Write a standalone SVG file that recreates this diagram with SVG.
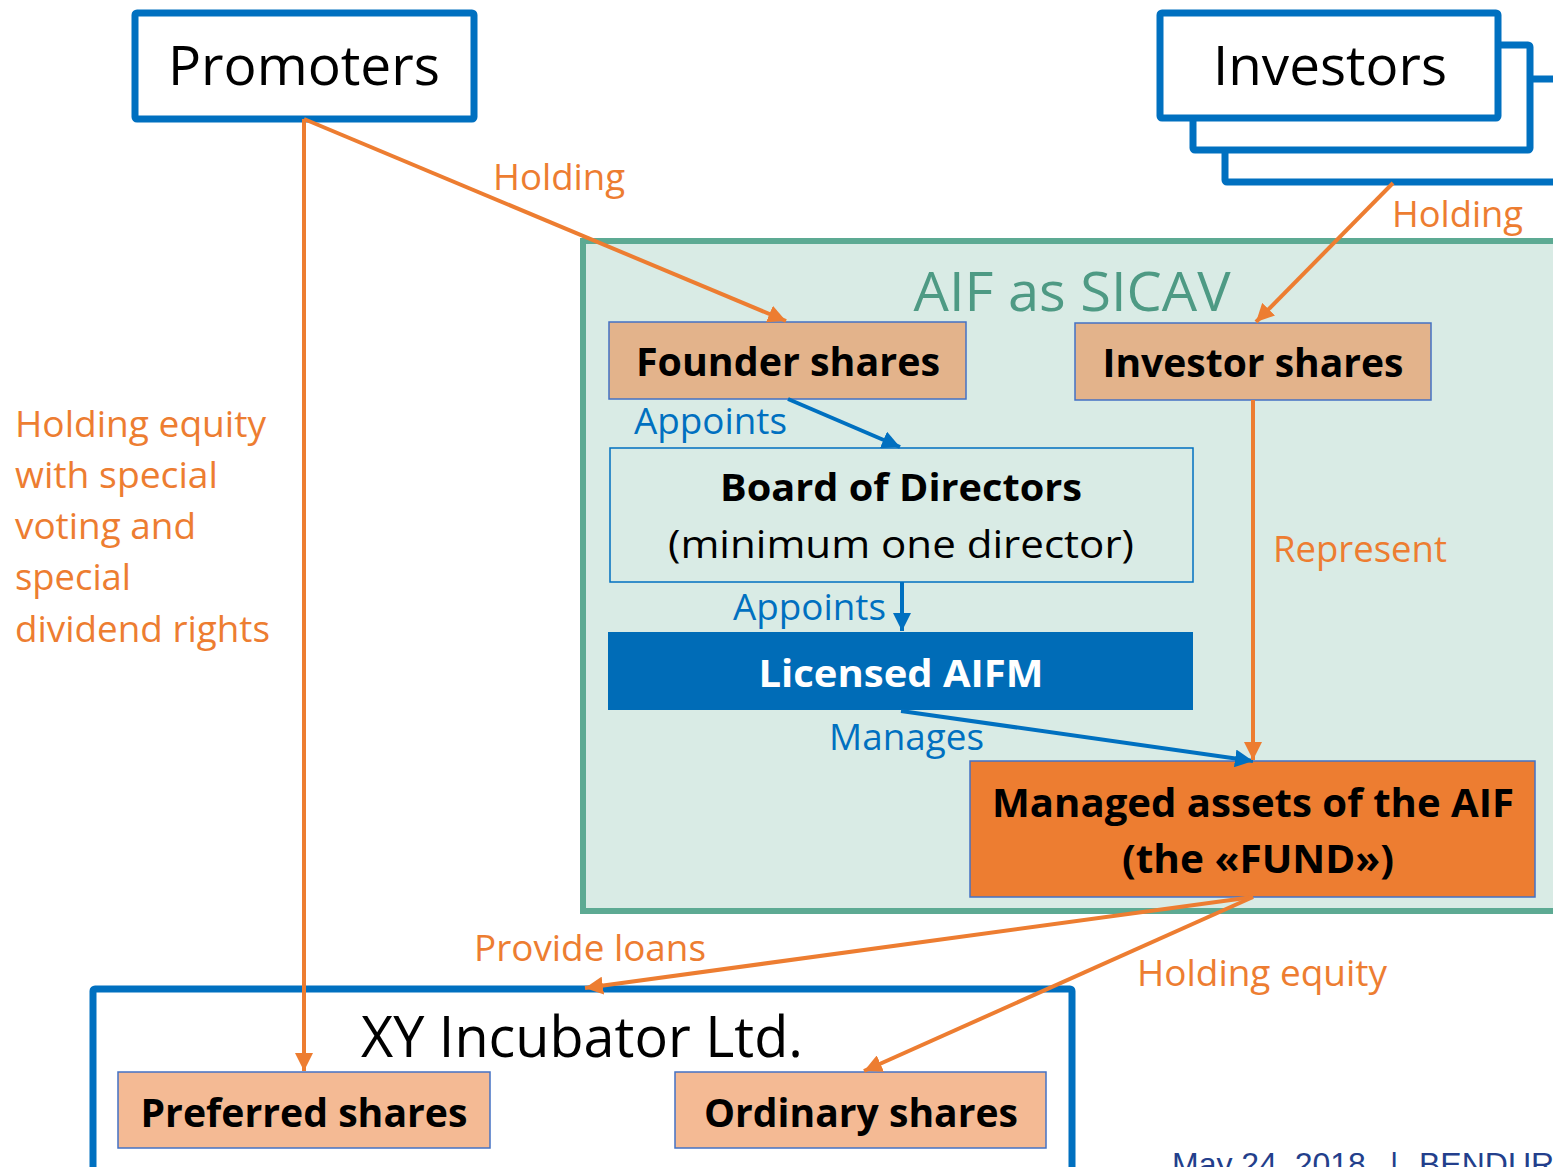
<svg xmlns="http://www.w3.org/2000/svg" width="1553" height="1167" viewBox="0 0 1553 1167">
<style>
.t{font-family:"Open Sans","Noto Sans",sans-serif;}
.b{font-weight:bold;}
.org{fill:#ED7D31;}
.blu{fill:#0070C0;}
.blk{fill:#000;}
.ol{stroke:#ED7D31;stroke-width:4;fill:none;}
.bl{stroke:#0070C0;stroke-width:4;fill:none;}
.bigbox{fill:#fff;stroke:#0070C0;stroke-width:7;}
.share{stroke:#4472C4;stroke-width:1.5;}
</style>
<defs>
<marker id="ao" markerUnits="userSpaceOnUse" markerWidth="20" markerHeight="18" viewBox="0 0 20 18" refX="18" refY="9" orient="auto"><path d="M0,0 L18,9 L0,18 Z" fill="#ED7D31"/></marker>
<marker id="ab" markerUnits="userSpaceOnUse" markerWidth="20" markerHeight="18" viewBox="0 0 20 18" refX="18" refY="9" orient="auto"><path d="M0,0 L18,9 L0,18 Z" fill="#0070C0"/></marker>
</defs>
<rect width="1553" height="1167" fill="#fff"/>

<g id="aif">
<rect x="583" y="241" width="990" height="670" fill="#D9EBE5" stroke="#5DAA93" stroke-width="6"/>
<text class="t" x="1072" y="311" font-size="55" fill="#4E9A84" text-anchor="middle" textLength="317" lengthAdjust="spacingAndGlyphs">AIF as SICAV</text>
</g>

<g id="promoters">
<rect class="bigbox" x="135" y="13" width="339" height="106" rx="2"/>
<text class="t blk" x="304" y="85" font-size="55" text-anchor="middle" textLength="272" lengthAdjust="spacingAndGlyphs">Promoters</text>
</g>

<g id="investors">
<rect class="bigbox" x="1225" y="79" width="360" height="103" rx="2"/>
<rect class="bigbox" x="1193" y="45" width="337" height="105" rx="2"/>
<rect class="bigbox" x="1160" y="13" width="338" height="105" rx="2"/>
<text class="t blk" x="1330" y="85" font-size="55" text-anchor="middle" textLength="234" lengthAdjust="spacingAndGlyphs">Investors</text>
</g>

<g id="founder">
<rect class="share" x="609" y="322" width="357" height="77" fill="#E3B38B"/>
<text class="t b blk" x="788" y="376" font-size="39" text-anchor="middle" textLength="304" lengthAdjust="spacingAndGlyphs">Founder shares</text>
</g>

<g id="investorshares">
<rect class="share" x="1075" y="323" width="356" height="77" fill="#E3B38B"/>
<text class="t b blk" x="1253" y="377" font-size="39" text-anchor="middle" textLength="301" lengthAdjust="spacingAndGlyphs">Investor shares</text>
</g>

<g id="board">
<rect x="610" y="448" width="583" height="134" fill="#D9EBE5" stroke="#0070C0" stroke-width="1.5"/>
<text class="t b blk" x="901" y="501" font-size="38" text-anchor="middle" textLength="362" lengthAdjust="spacingAndGlyphs">Board of Directors</text>
<text class="t blk" x="901" y="558" font-size="38" text-anchor="middle" textLength="466" lengthAdjust="spacingAndGlyphs">(minimum one director)</text>
</g>

<g id="aifm">
<rect x="608" y="632" width="585" height="78" fill="#006CB7"/>
<text class="t b" x="901" y="687" font-size="38" fill="#fff" text-anchor="middle" textLength="285" lengthAdjust="spacingAndGlyphs">Licensed AIFM</text>
</g>

<g id="fund">
<rect x="970" y="761" width="565" height="136" fill="#ED7D31" stroke="#4472C4" stroke-width="1.5"/>
<text class="t b blk" x="1253" y="817" font-size="39" text-anchor="middle" textLength="522" lengthAdjust="spacingAndGlyphs">Managed assets of the AIF</text>
<text class="t b blk" x="1258" y="873" font-size="39" text-anchor="middle" textLength="272" lengthAdjust="spacingAndGlyphs">(the «FUND»)</text>
</g>

<g id="incubator">
<rect class="bigbox" x="93" y="989" width="979" height="200" rx="2"/>
<text class="t blk" x="582" y="1057" font-size="56" text-anchor="middle" textLength="442" lengthAdjust="spacingAndGlyphs">XY Incubator Ltd.</text>
</g>

<g id="preferred">
<rect class="share" x="118" y="1072" width="372" height="76" fill="#F4BA94"/>
<text class="t b blk" x="304" y="1127" font-size="39" text-anchor="middle" textLength="327" lengthAdjust="spacingAndGlyphs">Preferred shares</text>
</g>

<g id="ordinary">
<rect class="share" x="675" y="1072" width="371" height="76" fill="#F4BA94"/>
<text class="t b blk" x="861" y="1127" font-size="39" text-anchor="middle" textLength="314" lengthAdjust="spacingAndGlyphs">Ordinary shares</text>
</g>

<g id="connectors">
<line class="ol" x1="304" y1="119" x2="786" y2="321" marker-end="url(#ao)"/>
<line class="ol" x1="304" y1="119" x2="304" y2="1071" marker-end="url(#ao)"/>
<line class="ol" x1="1393" y1="183" x2="1256" y2="322" marker-end="url(#ao)"/>
<line class="bl" x1="788" y1="399" x2="900" y2="447" marker-end="url(#ab)"/>
<line class="bl" x1="902" y1="582" x2="902" y2="631" marker-end="url(#ab)"/>
<line class="bl" x1="901" y1="711" x2="1253" y2="761" marker-end="url(#ab)"/>
<line class="ol" x1="1253" y1="400" x2="1253" y2="760" marker-end="url(#ao)"/>
<line class="ol" x1="1253" y1="897" x2="585" y2="988" marker-end="url(#ao)"/>
<line class="ol" x1="1253" y1="897" x2="864" y2="1071" marker-end="url(#ao)"/>
</g>

<g id="labels">
<text class="t org" x="493" y="190" font-size="36" textLength="132" lengthAdjust="spacingAndGlyphs">Holding</text>
<text class="t org" x="1392" y="227" font-size="36" textLength="131" lengthAdjust="spacingAndGlyphs">Holding</text>
<text class="t blu" x="634" y="434" font-size="36" textLength="153" lengthAdjust="spacingAndGlyphs">Appoints</text>
<text class="t blu" x="733" y="620" font-size="36" textLength="153" lengthAdjust="spacingAndGlyphs">Appoints</text>
<text class="t blu" x="829" y="750" font-size="36" textLength="155" lengthAdjust="spacingAndGlyphs">Manages</text>
<text class="t org" x="1273" y="562" font-size="36" textLength="174" lengthAdjust="spacingAndGlyphs">Represent</text>
<text class="t org" x="474" y="961" font-size="36" textLength="232" lengthAdjust="spacingAndGlyphs">Provide loans</text>
<text class="t org" x="1137" y="986" font-size="36" textLength="250" lengthAdjust="spacingAndGlyphs">Holding equity</text>
<text class="t org" font-size="36">
<tspan x="15" y="437" textLength="251" lengthAdjust="spacingAndGlyphs">Holding equity</tspan>
<tspan x="15" y="488" textLength="203" lengthAdjust="spacingAndGlyphs">with special</tspan>
<tspan x="15" y="539" textLength="181" lengthAdjust="spacingAndGlyphs">voting and</tspan>
<tspan x="15" y="590" textLength="116" lengthAdjust="spacingAndGlyphs">special</tspan>
<tspan x="15" y="642" textLength="255" lengthAdjust="spacingAndGlyphs">dividend rights</tspan>
</text>
</g>

<g id="footer">
<text font-family="'Liberation Sans',Arial,sans-serif" font-size="32" fill="#233F8C" y="1175"><tspan x="1172">May 24, 2018</tspan><tspan x="1390">|</tspan><tspan x="1419">BENDUR</tspan></text>
</g>
</svg>
